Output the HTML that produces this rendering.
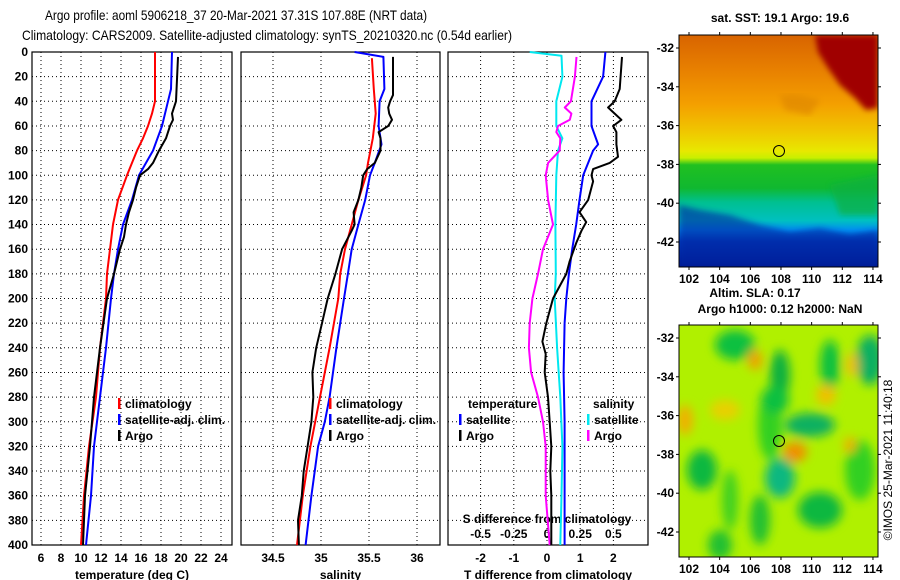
<!DOCTYPE html>
<html><head><meta charset="utf-8"><style>
body{margin:0;background:#fff;}
svg{display:block;font-family:"Liberation Sans",sans-serif;}
.t{font-size:12px;font-weight:bold;fill:#000;}
</style></head><body>
<svg id="c" width="900" height="580" viewBox="0 0 900 580">
<defs>
<linearGradient id="sstg" x1="0" y1="0" x2="0" y2="1">
<stop offset="0" stop-color="#d86400"/><stop offset="0.15" stop-color="#e88000"/><stop offset="0.3" stop-color="#f4a000"/><stop offset="0.42" stop-color="#f0c800"/><stop offset="0.5" stop-color="#e8e800"/><stop offset="0.53" stop-color="#c8f000"/><stop offset="0.56" stop-color="#20c020"/><stop offset="0.66" stop-color="#10b830"/><stop offset="0.72" stop-color="#00c090"/><stop offset="0.8" stop-color="#00c0c0"/><stop offset="0.84" stop-color="#0090f0"/><stop offset="0.89" stop-color="#0040c0"/><stop offset="1" stop-color="#001890"/>
</linearGradient>
<filter id="bl"><feGaussianBlur stdDeviation="5"/></filter>
<filter id="bl2"><feGaussianBlur stdDeviation="3"/></filter>
<clipPath id="c1"><rect x="679" y="35" width="199" height="232"/></clipPath>
<clipPath id="c2"><rect x="679" y="325" width="199" height="232"/></clipPath>
</defs>
<text x="45" y="20" font-size="14" textLength="382" lengthAdjust="spacingAndGlyphs">Argo profile: aoml 5906218_37 20-Mar-2021 37.31S 107.88E (NRT data)</text>
<text x="22" y="40" font-size="14" textLength="490" lengthAdjust="spacingAndGlyphs">Climatology: CARS2009. Satellite-adjusted climatology: synTS_20210320.nc (0.54d earlier)</text>
<g id="plots"></g>
<g id="maps">
<g clip-path="url(#c1)">
<rect x="679" y="35" width="199" height="232" fill="url(#sstg)"/>
<path d="M815 35 L878 35 L878 108 L866 110 L855 98 L840 85 L828 68 L818 52 Z" fill="#a00000" filter="url(#bl2)"/>
<path d="M780 95 L800 95 L820 100 L810 115 L785 110 Z" fill="#e08800" filter="url(#bl2)" opacity="0.7"/>
<path d="M679 205 L700 210 L730 215 L760 225 L790 232 L820 228 L850 235 L878 230 L878 267 L679 267 Z" fill="#0020a0" filter="url(#bl2)" opacity="0.6"/>
<path d="M830 185 L878 175 L878 215 L840 215 Z" fill="#10b040" filter="url(#bl2)" opacity="0.7"/>
</g>
<rect x="679" y="35" width="199" height="232" fill="none" stroke="#000"/>
<circle cx="779" cy="151" r="5.5" fill="none" stroke="#000"/>
<g clip-path="url(#c2)">
<rect x="679" y="325" width="199" height="232" fill="#b0f000"/>
<g filter="url(#bl)">
<ellipse cx="702" cy="470" rx="15" ry="20" fill="#10b840"/>
<ellipse cx="735" cy="345" rx="20" ry="15" fill="#10c040"/>
<ellipse cx="780" cy="375" rx="10" ry="25" fill="#10b040"/>
<ellipse cx="830" cy="365" rx="10" ry="25" fill="#10c040"/>
<ellipse cx="870" cy="360" rx="14" ry="25" fill="#10b060"/>
<ellipse cx="770" cy="425" rx="12" ry="35" fill="#30d020"/>
<ellipse cx="775" cy="400" rx="14" ry="14" fill="#10c040"/>
<ellipse cx="810" cy="425" rx="25" ry="12" fill="#10b060"/>
<ellipse cx="780" cy="478" rx="15" ry="20" fill="#10b880"/>
<ellipse cx="820" cy="510" rx="22" ry="18" fill="#10b840"/>
<ellipse cx="760" cy="520" rx="10" ry="25" fill="#20c030"/>
<ellipse cx="720" cy="545" rx="12" ry="15" fill="#20c030"/>
<ellipse cx="860" cy="470" rx="15" ry="30" fill="#30d020"/>
<ellipse cx="730" cy="500" rx="8" ry="30" fill="#40d020"/>
<ellipse cx="755" cy="360" rx="7" ry="10" fill="#f0a000"/>
<ellipse cx="795" cy="452" rx="12" ry="10" fill="#f09000"/>
<ellipse cx="685" cy="420" rx="8" ry="15" fill="#f0b000"/>
<ellipse cx="725" cy="410" rx="15" ry="10" fill="#e8d000"/>
<ellipse cx="826" cy="395" rx="10" ry="10" fill="#f0c000"/>
<ellipse cx="850" cy="445" rx="6" ry="8" fill="#f0b000"/>
<ellipse cx="852" cy="365" rx="6" ry="12" fill="#f0c000"/>
</g>
</g>
<rect x="679" y="325" width="199" height="232" fill="none" stroke="#000"/>
<circle cx="779" cy="441" r="5.5" fill="none" stroke="#000"/>
<text class="t" x="780" y="22" text-anchor="middle">sat. SST: 19.1 Argo: 19.6</text>
<text class="t" x="755" y="297" text-anchor="middle">Altim. SLA: 0.17</text>
<text class="t" x="780" y="313" text-anchor="middle">Argo h1000: 0.12 h2000: NaN</text>
<text x="892" y="460" font-size="12" text-anchor="middle" transform="rotate(-90 892 460)">©IMOS 25-Mar-2021 11:40:18</text>
</g>
</svg>
<script>
// ---- data ----
const depthTicks=[0,20,40,60,80,100,120,140,160,180,200,220,240,260,280,300,320,340,360,380,400];
const tempTicks=[6,8,10,12,14,16,18,20,22,24];
const salTicks=[34.5,35,35.5,36];
const tdTicks=[-2,-1,0,1,2];
const sdTickLabels=["-0.5","-0.25","0","0.25","0.5"];
const sdTicks=[-0.5,-0.25,0,0.25,0.5];
const mapLatTicks=[-32,-34,-36,-38,-40,-42];
const mapLonTicks=[102,104,106,108,110,112,114];

const tClimD=[0,40,50,60,70,80,90,100,120,140,160,180,200,240,280,320,360,400];
const tClimV=[17.4,17.4,17.1,16.7,16.2,15.6,15.1,14.6,13.7,13.2,12.9,12.6,12.5,11.9,11.5,10.8,10.3,10.0];
const tSatD=[0,30,40,60,80,90,100,120,140,160,180,200,240,280,320,360,400];
const tSatV=[19.1,19.0,18.7,18.1,17.2,16.5,15.8,15.1,14.2,13.7,13.3,13.0,12.5,11.9,11.3,11.0,10.5];
const tArgoD=[4,40,50,55,60,70,80,90,95,100,110,120,130,140,150,160,180,200,240,280,320,360,400];
const tArgoV=[19.7,19.5,19.1,19.2,18.9,18.5,17.8,17.2,16.7,15.9,15.5,15.2,14.8,14.5,14.3,13.9,13.3,12.6,11.9,11.3,10.9,10.4,10.2];

const sClimD=[5,30,50,70,90,100,120,140,160,180,200,240,280,300,320,360,400];
const sClimV=[35.53,35.55,35.57,35.54,35.49,35.47,35.39,35.32,35.25,35.2,35.18,35.09,34.99,34.94,34.89,34.81,34.75];
const sSatD=[0,4,30,40,60,75,90,100,120,140,160,180,200,240,280,300,320,360,400];
const sSatV=[35.35,35.65,35.66,35.61,35.6,35.63,35.56,35.51,35.46,35.39,35.32,35.28,35.24,35.16,35.09,35.04,34.97,34.9,34.84];
const sArgoD=[4,35,40,45,50,55,60,65,70,80,90,95,100,110,120,130,140,145,160,180,200,220,240,260,280,300,320,340,360,380,400];
const sArgoV=[35.75,35.75,35.72,35.7,35.71,35.74,35.7,35.6,35.62,35.62,35.56,35.48,35.44,35.42,35.39,35.34,35.35,35.32,35.22,35.15,35.07,35.01,34.95,34.91,34.92,34.9,34.86,34.82,34.8,34.76,34.77];

const dtSatD=[0,20,40,60,75,80,100,120,140,160,180,200,220,260,300,340,400];
const dtSatV=[1.76,1.69,1.34,1.34,1.54,1.39,1.09,0.98,0.88,0.76,0.66,0.58,0.53,0.5,0.53,0.53,0.53];
const dtArgoD=[4,30,40,45,50,55,60,65,75,85,90,95,100,105,120,130,138,145,155,170,180,200,220,235,245,260,280,300,320,340,360,400];
const dtArgoV=[2.26,2.19,2.04,1.84,2.04,2.24,1.99,2.09,2.09,2.14,1.89,1.39,1.34,1.39,1.24,0.98,1.18,1.04,0.88,0.68,0.58,0.18,-0.02,-0.14,-0.04,-0.07,0.03,0.08,0.13,0.1,0.13,0.13];
const dsSatD=[0,3,20,40,60,70,80,100,140,180,200,240,280,320,360,400];
const dsSatV=[-0.13,0.109,0.116,0.07,0.07,0.116,0.083,0.07,0.063,0.066,0.058,0.076,0.1,0.116,0.109,0.1];
const dsArgoD=[4,20,40,45,50,55,60,65,70,80,90,100,120,140,160,180,200,220,240,260,280,300,320,360,400];
const dsArgoV=[0.222,0.21,0.18,0.134,0.184,0.172,0.083,0.07,0.1,0.096,0.008,-0.01,0.008,0.045,-0.03,-0.068,-0.11,-0.13,-0.136,-0.12,-0.068,-0.03,-0.01,-0.01,0.02];

// ---- drawing ----
const NS="http://www.w3.org/2000/svg";
const root=document.getElementById('plots');
function mk(tag,at,parent){const e=document.createElementNS(NS,tag);for(const k in at)e.setAttribute(k,at[k]);(parent||root).appendChild(e);return e;}
const Y0=52,Y1=545;
function yD(d){return Y0+(d/400)*(Y1-Y0);}
const xT=v=>41+(v-6)*10;
const xS=v=>273+(v-34.5)*96;
const xDT=v=>547+v*33.2;
const xDS=v=>547+v*132.8;

function panel(L,R,xticks,xf,labels,xtitle,name){
  const g=mk('g',{});
  
  
  depthTicks.forEach(d=>{if(d>0&&d<400){const l=mk('line',{x1:L,x2:R,y1:yD(d),y2:yD(d),stroke:'#000','stroke-width':1,'stroke-dasharray':'1,3'},g);
    
    }});
  xticks.forEach((v,i)=>{const x=xf(v);
    const l=mk('line',{x1:x,x2:x,y1:Y0,y2:Y1,stroke:'#000','stroke-width':1,'stroke-dasharray':'1,3'},g);
    
    
    if(labels){const t=mk('text',{x:x,y:562,'text-anchor':'middle',class:'t'},g);t.textContent=labels[i];
      
      }
  });
  const r=mk('rect',{x:L,y:Y0,width:R-L,height:Y1-Y0,fill:'none',stroke:'#000','stroke-width':1.2},g);
  
  
  const t=mk('text',{x:(L+R)/2,y:579,'text-anchor':'middle',class:'t'},g);t.textContent=xtitle;
  
  
  return g;
}
function line(D,V,xf,color,w,name){
  const p=mk('polyline',{points:D.map((d,i)=>xf(V[i]).toFixed(1)+','+yD(d).toFixed(1)).join(' '),fill:'none',stroke:color,'stroke-width':w,'stroke-linejoin':'round'});
  
  
}
function leg(x,y,color,txt,name){
  const r=mk('rect',{x:x,y:y-10,width:2.5,height:11,fill:color});
  
  
  const t=mk('text',{x:x+7,y:y,class:'t'});t.textContent=txt;
  
  
}

// depth labels
depthTicks.forEach(d=>{const t=mk('text',{x:28,y:yD(d)+4,'text-anchor':'end',class:'t'});t.textContent=d;
  
  });

panel(32,232,tempTicks,xT,tempTicks.map(String),'temperature (deg C)','temperature-panel');
panel(241,440,salTicks,xS,salTicks.map(String),'salinity','salinity-panel');
panel(448,648,tdTicks,xDT,tdTicks.map(String),'T difference from climatology','difference-panel');
sdTicks.forEach((v,i)=>{const t=mk('text',{x:xDS(v),y:538,'text-anchor':'middle',class:'t'});t.textContent=sdTickLabels[i];
  
  });
{const t=mk('text',{x:547,y:523,'text-anchor':'middle',class:'t'});t.textContent='S difference from climatology';
 
 }

line(tClimD,tClimV,xT,'#f00',2,'temp-climatology-line');
line(tSatD,tSatV,xT,'#00f',2,'temp-satellite-line');
line(tArgoD,tArgoV,xT,'#000',2,'temp-argo-line');
line(sClimD,sClimV,xS,'#f00',2,'sal-climatology-line');
line(sSatD,sSatV,xS,'#00f',2,'sal-satellite-line');
line(sArgoD,sArgoV,xS,'#000',2,'sal-argo-line');
line(dsSatD,dsSatV,xDS,'#00e8f0',2,'sdiff-satellite-line');
line(dsArgoD,dsArgoV,xDS,'#f0f',2,'sdiff-argo-line');
line(dtSatD,dtSatV,xDT,'#00f',2,'tdiff-satellite-line');
line(dtArgoD,dtArgoV,xDT,'#000',2,'tdiff-argo-line');

leg(118,408,'#f00','climatology','legend-temp-climatology');
leg(118,424,'#00f','satellite-adj. clim.','legend-temp-satellite');
leg(118,440,'#000','Argo','legend-temp-argo');
leg(329,408,'#f00','climatology','legend-sal-climatology');
leg(329,424,'#00f','satellite-adj. clim.','legend-sal-satellite');
leg(329,440,'#000','Argo','legend-sal-argo');
{const t=mk('text',{x:468,y:408,class:'t'});t.textContent='temperature';
 
 }
{const t=mk('text',{x:593,y:408,class:'t'});t.textContent='salinity';
 
 }
leg(459,424,'#00f','satellite','legend-tdiff-satellite');
leg(459,440,'#000','Argo','legend-tdiff-argo');
leg(587,424,'#00e8f0','satellite','legend-sdiff-satellite');
leg(587,440,'#f0f','Argo','legend-sdiff-argo');

// map axes
const maps=document.getElementById('maps');
[[48,273],[338,563]].forEach(([lat0,ly])=>{
  mapLatTicks.forEach(v=>{const y=lat0+(-32-v)*19.4;
    const t=mk('text',{x:674,y:y+4,'text-anchor':'end',class:'t'},maps);t.textContent=v;
    
    
    mk('line',{x1:676,x2:679,y1:y,y2:y,stroke:'#000'},maps);
    mk('line',{x1:878,x2:881,y1:y,y2:y,stroke:'#000'},maps);
  });
  mapLonTicks.forEach(v=>{const x=689+(v-102)*15.33;
    const t=mk('text',{x:x,y:ly+10,'text-anchor':'middle',class:'t'},maps);t.textContent=v;
    
    
    const top=lat0===48?35:325;
    mk('line',{x1:x,x2:x,y1:top-3,y2:top,stroke:'#000'},maps);
    mk('line',{x1:x,x2:x,y1:top+232,y2:top+235,stroke:'#000'},maps);
  });
});
</script>
</body></html>
